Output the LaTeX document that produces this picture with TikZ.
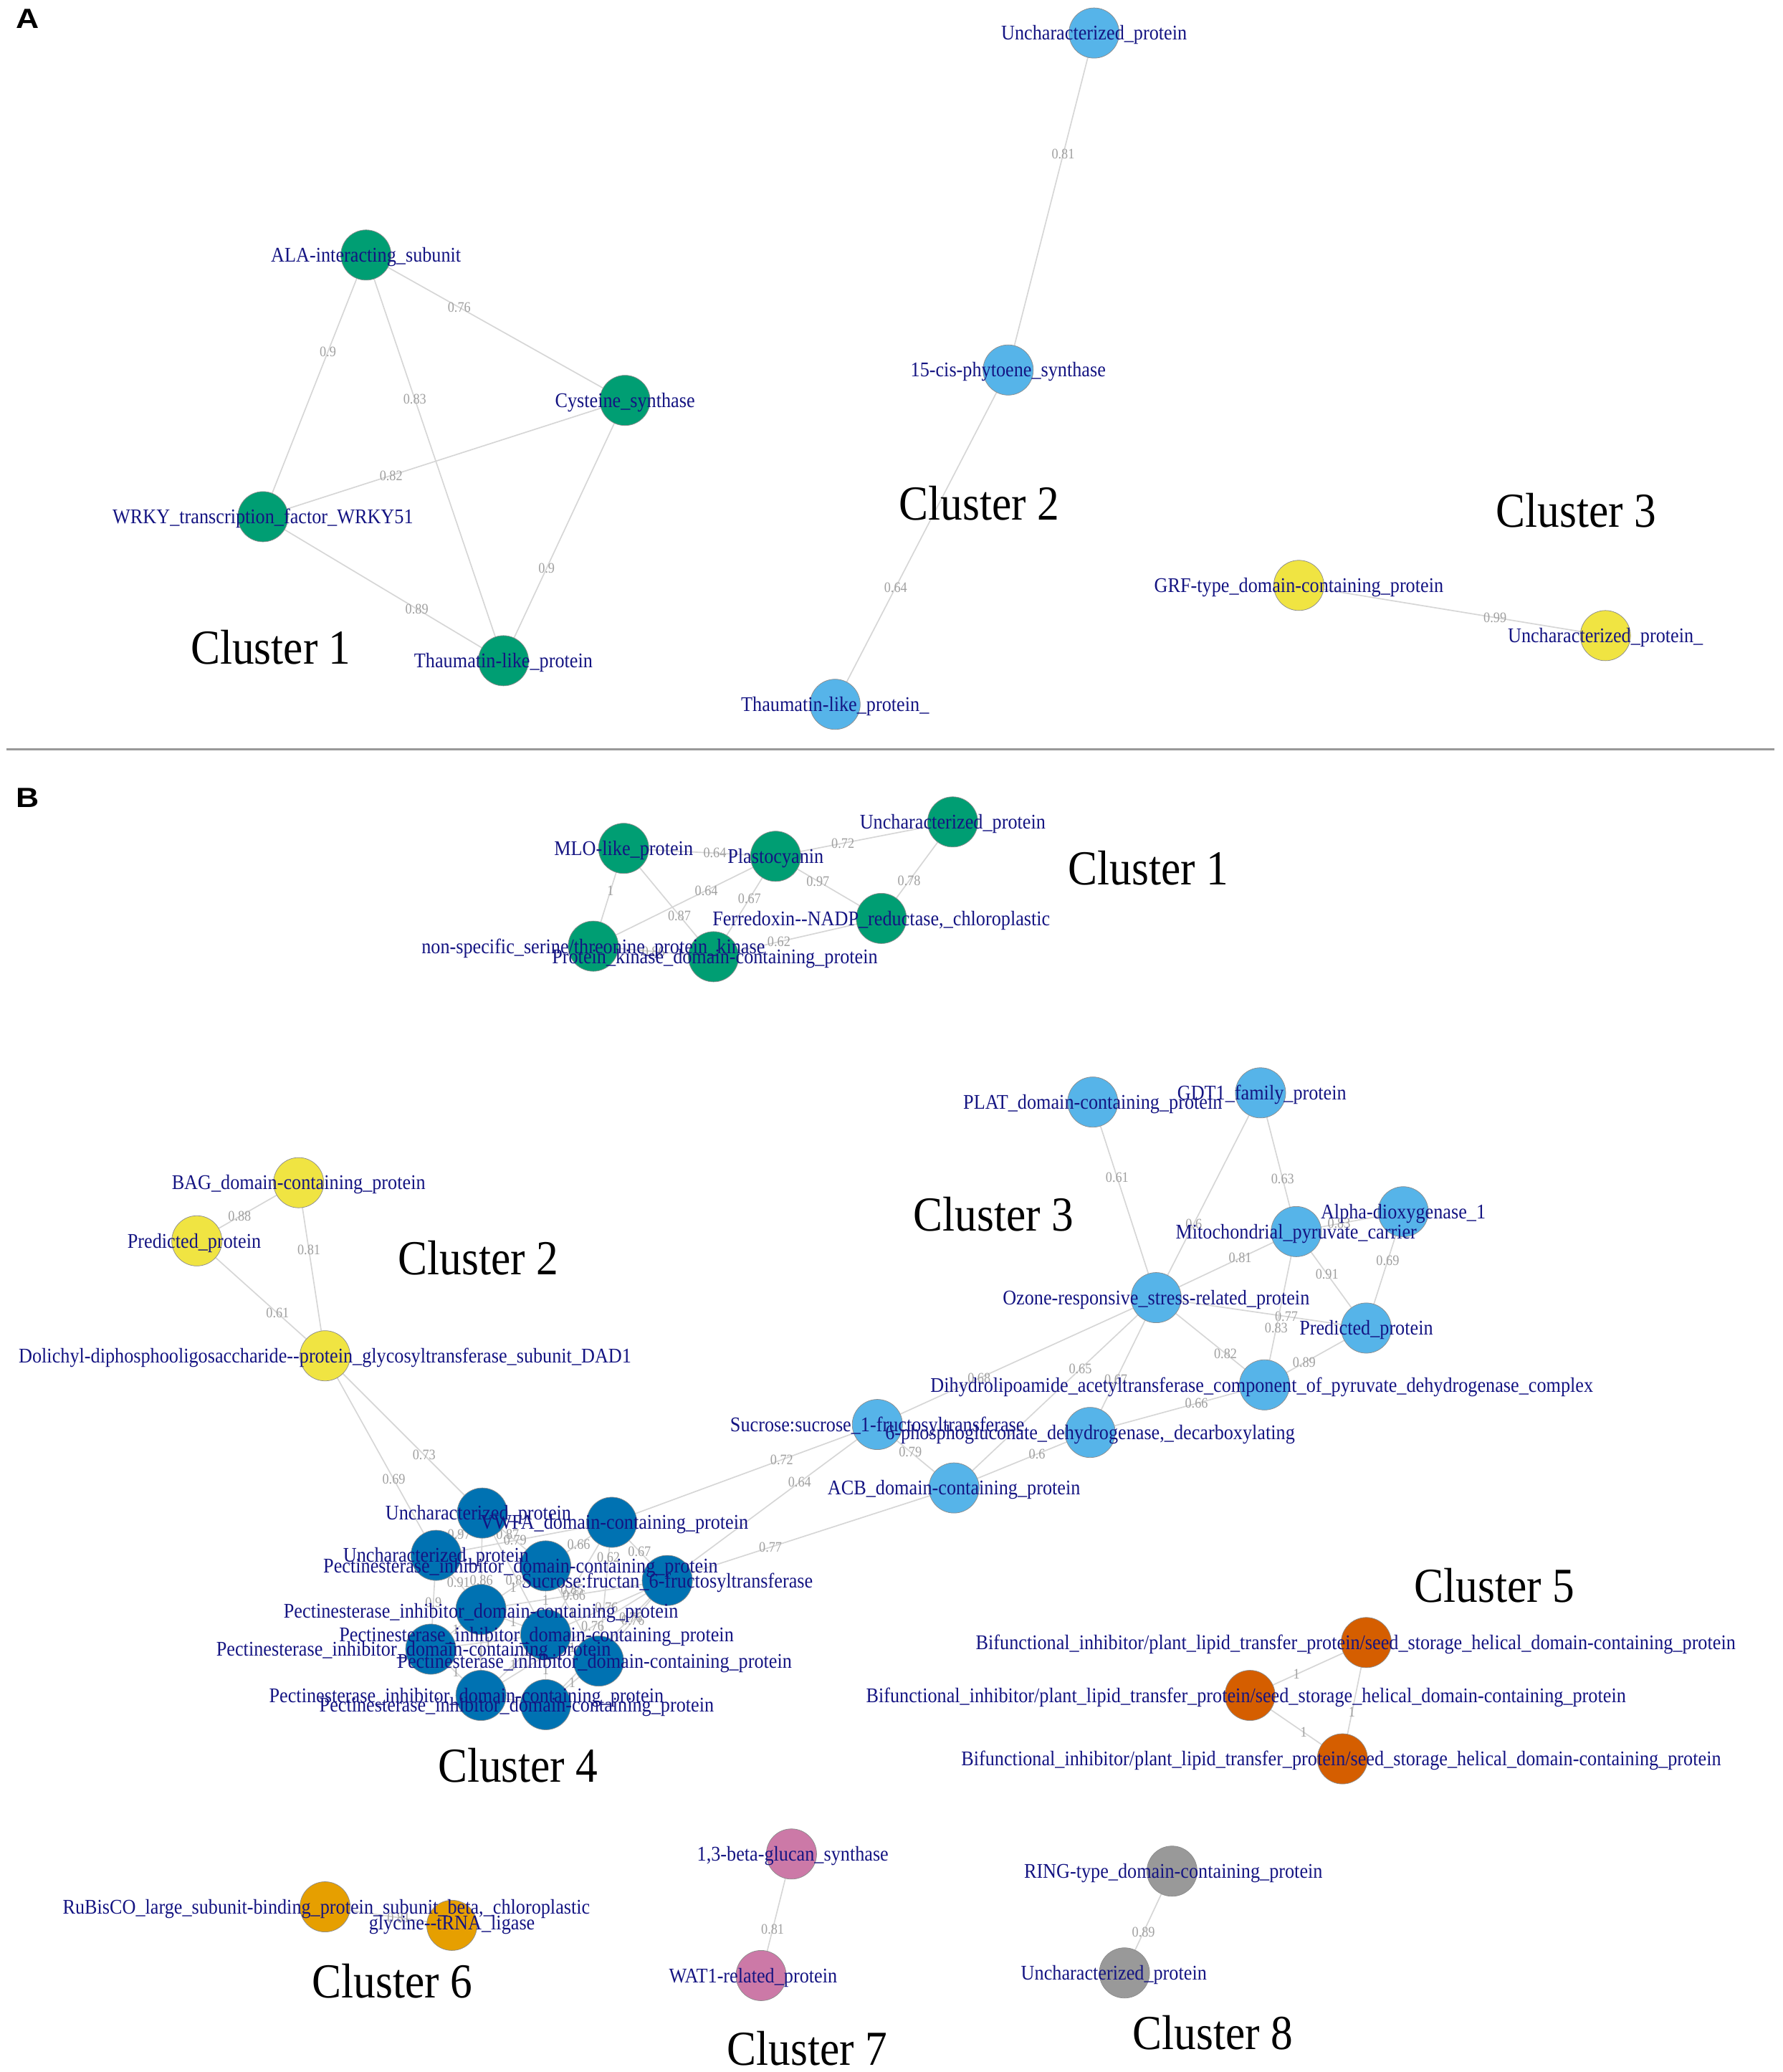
\documentclass[tikz,border=0pt]{standalone}
\usepackage{fontspec}
\setmainfont{Liberation Serif}
\newfontfamily\labfam[FakeStretch=0.9]{Liberation Serif}
\newfontfamily\panelfam[FakeStretch=1.15]{Liberation Sans}
\pgfdeclarelayer{back}\pgfdeclarelayer{bg}\pgfdeclarelayer{fg}
\pgfsetlayers{back,bg,main,fg}
\definecolor{cg}{RGB}{0,158,115}
\definecolor{cs}{RGB}{86,180,233}
\definecolor{cy}{RGB}{240,228,66}
\definecolor{cb}{RGB}{0,114,178}
\definecolor{cv}{RGB}{213,94,0}
\definecolor{co}{RGB}{230,159,0}
\definecolor{cp}{RGB}{204,121,167}
\definecolor{cgr}{RGB}{153,153,153}
\definecolor{labblue}{RGB}{20,20,130}
\definecolor{edgecol}{RGB}{214,214,214}
\definecolor{elabcol}{RGB}{160,160,160}
\newcommand\vtx[7]{%
  \node[vert,fill=#4] (#1) at (#2,#3) {};
  \begin{pgfonlayer}{fg}\node[lab] (#1t) at (#6,#7) {#5};\end{pgfonlayer}}
\newcommand\edg[4][0.5]{%
  \begin{pgfonlayer}{bg}\draw[edge] (#2.center) -- node[elab,pos=#1] (#2#3e) {#4} (#3.center);\end{pgfonlayer}}
\begin{document}
\begin{tikzpicture}[x=1pt,y=-1pt,
  vert/.style={circle,minimum size=38pt,inner sep=0pt,draw=black!45,line width=0.4pt},
  lab/.style={font=\labfam\fontsize{15.8}{16}\selectfont,text=labblue,inner sep=0pt,yshift=-1.5pt},
  elab/.style={font=\labfam\fontsize{11}{11}\selectfont,text=elabcol,inner sep=0pt},
  edge/.style={draw=edgecol,line width=0.9pt},
  ctitle/.style={font=\labfam\fontsize{37}{37}\selectfont,text=black,inner sep=0pt},
  panel/.style={font=\panelfam\bfseries\fontsize{21}{21}\selectfont,inner sep=0pt}]
\begin{pgfonlayer}{back}
\fill[white] (0,0) rectangle (1349,1568);
\end{pgfonlayer}
\useasboundingbox (0,0) rectangle (1349,1568);

% panel letters and separator
\node[panel] (pA) at (21,14) {A};
\node[panel] (pB) at (21,604) {B};
\coordinate (sl) at (5,567);
\coordinate (sr) at (1343,567);
\draw[black!40,line width=1.2pt] (sl) -- (sr);

% ===== Panel A =====
\vtx{aala}{277}{193}{cg}{ALA-interacting\_subunit}{277}{193}
\vtx{acys}{473}{303}{cg}{Cysteine\_synthase}{473}{303}
\vtx{awrky}{199}{391}{cg}{WRKY\_transcription\_factor\_WRKY51}{199}{391}
\vtx{athau}{381}{500}{cg}{Thaumatin-like\_protein}{381}{500}
\vtx{aunc}{828}{25}{cs}{Uncharacterized\_protein}{828}{25}
\vtx{acis}{763}{280}{cs}{15-cis-phytoene\_synthase}{763}{280}
\vtx{athl}{632}{533}{cs}{Thaumatin-like\_protein\_}{632}{533}
\vtx{agrf}{983}{443}{cy}{GRF-type\_domain-containing\_protein}{983}{443}
\vtx{aunc2}{1215}{481}{cy}{Uncharacterized\_protein\_}{1215}{481}

\edg[0.37]{aala}{awrky}{0.9}
\edg[0.36]{aala}{acys}{0.76}
\edg[0.355]{aala}{athau}{0.83}
\edg[0.354]{awrky}{acys}{0.82}
\edg[0.64]{awrky}{athau}{0.89}
\edg[0.645]{acys}{athau}{0.9}
\edg[0.36]{aunc}{acis}{0.81}
\edg[0.65]{acis}{athl}{0.64}
\edg[0.64]{agrf}{aunc2}{0.99}

\node[ctitle] (ta1) at (205,490) {Cluster 1};
\node[ctitle] (ta2) at (741,381) {Cluster 2};
\node[ctitle] (ta3) at (1193,386) {Cluster 3};

% ===== Panel B =====
% Cluster 1
\vtx{bmlo}{472}{642}{cg}{MLO-like\_protein}{472}{642}
\vtx{bpla}{587}{648}{cg}{Plastocyanin}{587}{648}
\vtx{bunc}{721}{622}{cg}{Uncharacterized\_protein}{721}{622}
\vtx{bfer}{667}{695}{cg}{Ferredoxin-{}-NADP\_reductase,\_chloroplastic}{667}{695}
\vtx{bnsk}{449}{716}{cg}{non-specific\_serine/threonine\_protein\_kinase}{449}{716}
\vtx{bpk}{540}{724}{cg}{Protein\_kinase\_domain-containing\_protein}{541}{724}

\edg[0.6]{bmlo}{bpla}{0.64}
\edg[0.38]{bpla}{bunc}{0.72}
\edg[0.4]{bpla}{bfer}{0.97}
\edg[0.61]{bunc}{bfer}{0.78}
\edg[0.43]{bmlo}{bnsk}{1}
\edg[0.62]{bmlo}{bpk}{0.87}
\edg[0.38]{bpla}{bnsk}{0.64}
\edg[0.42]{bpla}{bpk}{0.67}
\edg[0.61]{bfer}{bpk}{0.62}
\edg[0.5]{bnsk}{bpk}{0.86}

% Cluster 2
\vtx{bbag}{226}{895}{cy}{BAG\_domain-containing\_protein}{226}{895}
\vtx{bpred}{149}{939}{cy}{Predicted\_protein}{147}{939}
\vtx{bdol}{246}{1026}{cy}{Dolichyl-diphosphooligosaccharide-{}-protein\_glycosyltransferase\_subunit\_DAD1}{246}{1026}

\edg[0.58]{bbag}{bpred}{0.88}
\edg[0.39]{bbag}{bdol}{0.81}
\edg[0.63]{bpred}{bdol}{0.61}

% Cluster 3
\vtx{bplat}{827}{834}{cs}{PLAT\_domain-containing\_protein}{827}{834}
\vtx{bgdt}{954}{827}{cs}{GDT1\_family\_protein}{955}{827}
\vtx{balpha}{1062}{917}{cs}{Alpha-dioxygenase\_1}{1062}{917}
\vtx{bmito}{981}{932}{cs}{Mitochondrial\_pyruvate\_carrier}{981}{932}
\vtx{bozone}{875}{982}{cs}{Ozone-responsive\_stress-related\_protein}{875}{982}
\vtx{bpredp}{1034}{1005}{cs}{Predicted\_protein}{1034}{1005}
\vtx{bdih}{957}{1048}{cs}{Dihydrolipoamide\_acetyltransferase\_component\_of\_pyruvate\_dehydrogenase\_complex}{955}{1048}
\vtx{bss}{664}{1078}{cs}{Sucrose:sucrose\_1-fructosyltransferase}{664}{1078}
\vtx{bpg}{825}{1084}{cs}{6-phosphogluconate\_dehydrogenase,\_decarboxylating}{825}{1084}
\vtx{bacb}{722}{1126}{cs}{ACB\_domain-containing\_protein}{722}{1126}

\edg[0.385]{bplat}{bozone}{0.61}
\edg[0.64]{bgdt}{bozone}{0.6}
\edg[0.62]{bgdt}{bmito}{0.63}
\edg[0.4]{bmito}{balpha}{0.83}
\edg[0.4]{bmito}{bozone}{0.81}
\edg[0.44]{bmito}{bpredp}{0.91}
\edg[0.42]{balpha}{bpredp}{0.69}
\edg[0.62]{bozone}{bpredp}{0.77}
\edg[0.63]{bmito}{bdih}{0.83}
\edg[0.64]{bozone}{bdih}{0.82}
\edg[0.61]{bpredp}{bdih}{0.89}
\edg[0.375]{bozone}{bacb}{0.65}
\edg[0.61]{bozone}{bpg}{0.67}
\edg[0.635]{bozone}{bss}{0.68}
\edg[0.61]{bpg}{bdih}{0.66}
\edg[0.61]{bacb}{bpg}{0.6}
\edg[0.43]{bss}{bacb}{0.79}

% Cluster 4
\vtx{cu1}{365}{1145}{cb}{Uncharacterized\_protein}{362}{1145}
\vtx{cvw}{463}{1152}{cb}{VWFA\_domain-containing\_protein}{465}{1152}
\vtx{cu2}{330}{1177}{cb}{Uncharacterized\_protein}{330}{1177}
\vtx{cp1}{413}{1185}{cb}{Pectinesterase\_inhibitor\_domain-containing\_protein}{394}{1185}
\vtx{csf}{505}{1196}{cb}{Sucrose:fructan\_6-fructosyltransferase}{505}{1196}
\vtx{cp2}{364}{1218}{cb}{Pectinesterase\_inhibitor\_domain-containing\_protein}{364}{1219}
\vtx{cp3}{413}{1237}{cb}{Pectinesterase\_inhibitor\_domain-containing\_protein}{406}{1237}
\vtx{cp4}{326}{1248}{cb}{Pectinesterase\_inhibitor\_domain-containing\_protein}{313}{1248}
\vtx{cp5}{453}{1257}{cb}{Pectinesterase\_inhibitor\_domain-containing\_protein}{450}{1257}
\vtx{cp6}{364}{1283}{cb}{Pectinesterase\_inhibitor\_domain-containing\_protein}{353}{1283}
\vtx{cp7}{413}{1290}{cb}{Pectinesterase\_inhibitor\_domain-containing\_protein}{391}{1290}

\edg[0.63]{bdol}{cu1}{0.73}
\edg[0.62]{bdol}{cu2}{0.69}
\edg[0.64]{cvw}{bss}{0.72}
\edg[0.63]{csf}{bss}{0.64}
\edg[0.36]{csf}{bacb}{0.77}

\edg[0.5]{cu1}{cu2}{0.97}
\edg[0.4]{cu1}{cp1}{0.87}
\edg[0.55]{cvw}{cu2}{0.79}
\edg[0.5]{cvw}{cp1}{0.66}
\edg[0.25]{cvw}{cp5}{0.62}
\edg[0.5]{cvw}{csf}{0.67}
\edg[0.5]{cu2}{cp2}{0.91}
\edg[0.7]{cu1}{cp2}{0.86}
\edg[0.55]{cu1}{cp3}{0.87}
\edg[0.5]{cu2}{cp4}{0.9}
\edg[0.6]{cvw}{cp3}{0.85}
\edg[0.5]{csf}{cp2}{0.66}
\edg[0.5]{csf}{cp3}{0.76}
\edg[0.4]{csf}{cp6}{0.76}
\edg[0.5]{csf}{cp5}{0.76}
\edg[0.3]{csf}{cp7}{0.76}
\edg[0.5]{cp1}{cp3}{1}
\edg[0.5]{cp2}{cp3}{1}
\edg[0.5]{cp1}{cp5}{1}
\edg[0.5]{cp4}{cp6}{1}
\edg[0.5]{cp3}{cp7}{1}
\edg[0.5]{cp5}{cp7}{1}
\edg[0.5]{cp2}{cp4}{1}
\edg[0.5]{cp2}{cp6}{1}
\edg[0.5]{cp6}{cp7}{1}
\edg[0.5]{cp3}{cp5}{1}
\edg[0.5]{cp2}{cp1}{1}
\edg[0.5]{cp4}{cp3}{1}
\edg[0.5]{cp6}{cp3}{1}

% Cluster 5
\vtx{db1}{1034}{1243}{cv}{Bifunctional\_inhibitor/plant\_lipid\_transfer\_protein/seed\_storage\_helical\_domain-containing\_protein}{1026}{1243}
\vtx{db2}{946}{1283}{cv}{Bifunctional\_inhibitor/plant\_lipid\_transfer\_protein/seed\_storage\_helical\_domain-containing\_protein}{943}{1283}
\vtx{db3}{1016}{1331}{cv}{Bifunctional\_inhibitor/plant\_lipid\_transfer\_protein/seed\_storage\_helical\_domain-containing\_protein}{1015}{1331}
\edg[0.6]{db1}{db2}{1}
\edg[0.6]{db1}{db3}{1}
\edg[0.58]{db2}{db3}{1}

% Cluster 6
\vtx{er1}{246}{1443}{co}{RuBisCO\_large\_subunit-binding\_protein\_subunit\_beta,\_chloroplastic}{247}{1443}
\vtx{eg1}{342}{1457}{co}{glycine-{}-tRNA\_ligase}{342}{1455}
\edg[0.58]{er1}{eg1}{0.81}

% Cluster 7
\vtx{fbg}{599}{1403}{cp}{1,3-beta-glucan\_synthase}{600}{1403}
\vtx{fwat}{576}{1495}{cp}{WAT1-related\_protein}{570}{1495}
\edg[0.62]{fbg}{fwat}{0.81}

% Cluster 8
\vtx{gring}{887}{1416}{cgr}{RING-type\_domain-containing\_protein}{888}{1416}
\vtx{gunc}{851}{1493}{cgr}{Uncharacterized\_protein}{843}{1493}
\edg[0.6]{gring}{gunc}{0.89}

\node[ctitle] (tb1) at (869,657) {Cluster 1};
\node[ctitle] (tb2) at (362,952) {Cluster 2};
\node[ctitle] (tb3) at (752,919) {Cluster 3};
\node[ctitle] (tb4) at (392,1336) {Cluster 4};
\node[ctitle] (tb5) at (1131,1200) {Cluster 5};
\node[ctitle] (tb6) at (297,1499) {Cluster 6};
\node[ctitle] (tb7) at (611,1550) {Cluster 7};
\node[ctitle] (tb8) at (918,1538) {Cluster 8};
\end{tikzpicture}
\end{document}
